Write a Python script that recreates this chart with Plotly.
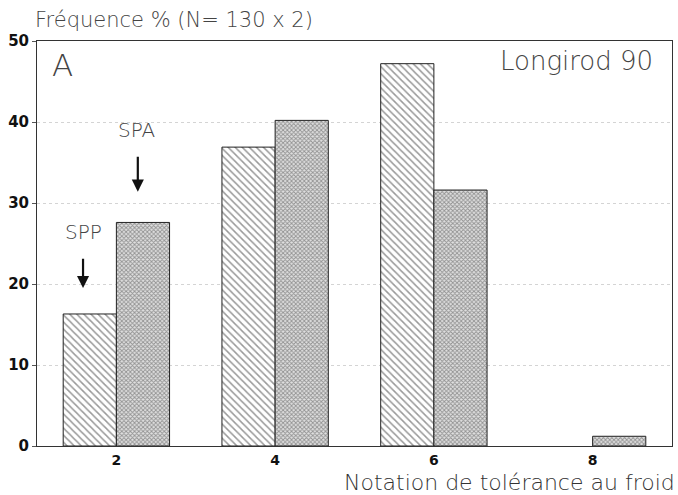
import plotly.graph_objects as go

categories = [2, 4, 6, 8]
spp = [16.3, 36.9, 47.2, 0.0]
spa = [27.6, 40.2, 31.6, 1.2]
y_ticks = [0, 10, 20, 30, 40, 50]

font_fam = "DejaVu Sans, Liberation Sans, sans-serif"

fig = go.Figure()
fig.add_trace(go.Bar(
    x=categories, y=spp, name="SPP", width=0.67, offset=-0.67,
    marker=dict(color="white", line=dict(color="#222", width=[1, 1, 1, 0]),
                pattern=dict(shape="\\", size=5, solidity=0.3, fgcolor="#333", bgcolor="white")),
))
fig.add_trace(go.Bar(
    x=categories, y=spa, name="SPA", width=0.67, offset=0,
    marker=dict(color="white", line=dict(color="#222", width=1),
                pattern=dict(shape="x", size=3, solidity=0.5, fgcolor="#444", bgcolor="#e0e0e0")),
))

fig.update_layout(
    width=678, height=495,
    margin=dict(l=37, r=6, t=41, b=49),
    paper_bgcolor="white", plot_bgcolor="white",
    showlegend=False,
    font=dict(family=font_fam, color="#222"),
    xaxis=dict(range=[1, 9], tickvals=categories, ticktext=[str(c) for c in categories],
               showline=True, linecolor="#333", linewidth=1, mirror=True,
               showgrid=False, zeroline=False, ticks="",
               tickfont=dict(size=14, color="#111", family=font_fam, weight="bold"),
               ticklabelstandoff=1),
    yaxis=dict(range=[0, 50], tickvals=y_ticks,
               showline=True, linecolor="#333", linewidth=1, mirror=True,
               showgrid=True, gridcolor="#d4d4d4", griddash="dot", gridwidth=1,
               zeroline=False, ticks="outside", ticklen=4, tickcolor="#555",
               tickfont=dict(size=15, color="#111", family=font_fam, weight="bold")),
)

ann = [
    dict(text="Fréquence % (N= 130 x 2)", xref="paper", yref="paper", x=-0.006, y=1.0,
         xanchor="left", yanchor="bottom", yshift=7, showarrow=False,
         font=dict(size=21, color="#444", weight=300)),
    dict(text="A", xref="x", yref="y", x=1.17, y=47.0, xanchor="left", yanchor="middle",
         showarrow=False, font=dict(size=31, color="#444", weight=300)),
    dict(text="Longirod 90", xref="paper", yref="y", x=0.973, y=47.5, xanchor="right",
         yanchor="middle", showarrow=False, font=dict(size=26, color="#444", weight=300)),
    dict(text="Notation de tolérance au froid", xref="paper", yref="paper", x=1.008, y=0,
         xanchor="right", yanchor="top", yshift=-22, showarrow=False,
         font=dict(size=22, color="#333", weight=300)),
    dict(text="SPA", xref="x", yref="y", x=2.25, y=39.0, showarrow=False,
         font=dict(size=20, color="#444", weight=300)),
    dict(text="SPP", xref="x", yref="y", x=1.58, y=26.4, showarrow=False,
         font=dict(size=20, color="#444", weight=300)),
    dict(text="", xref="x", yref="y", x=2.27, y=31.4, axref="x", ayref="y",
         ax=2.27, ay=35.9, showarrow=True, arrowhead=2, arrowsize=1.1, arrowwidth=2.2,
         arrowcolor="#111"),
    dict(text="", xref="x", yref="y", x=1.58, y=19.5, axref="x", ayref="y",
         ax=1.58, ay=23.3, showarrow=True, arrowhead=2, arrowsize=1.1, arrowwidth=2.2,
         arrowcolor="#111"),
]
fig.update_layout(annotations=ann)

fig.write_html("out.html")
